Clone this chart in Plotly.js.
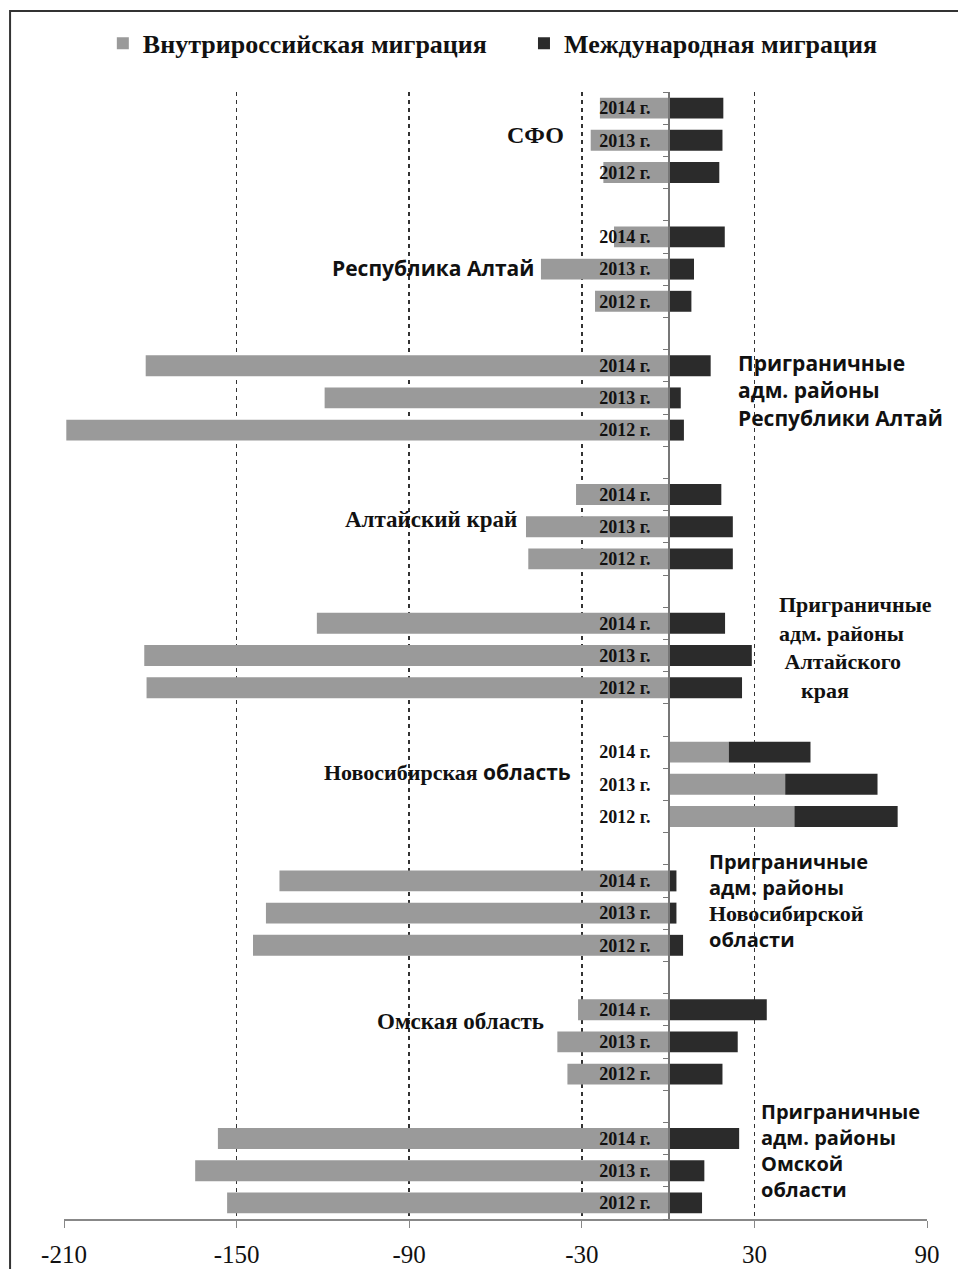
<!DOCTYPE html>
<html>
<head>
<meta charset="utf-8">
<script src="https://cdn.plot.ly/plotly-3.0.1.min.js"></script>
<style>
html,body{margin:0;padding:0;background:#fff;}
#chart{width:958px;height:1269px;}
</style>
</head>
<body>
<div id="chart"></div>
<script>
// Groups, top to bottom
const groups = [
  'СФО',
  'Республика Алтай',
  'Приграничные адм. районы Республики Алтай',
  'Алтайский край',
  'Приграничные адм. районы Алтайского края',
  'Новосибирская область',
  'Приграничные адм. районы Новосибирской области',
  'Омская область',
  'Приграничные адм. районы Омской области'
];
// Years within each group, top to bottom
const years = ['2014 г.', '2013 г.', '2012 г.'];

// Внутрироссийская миграция (per group: 2014, 2013, 2012)
const domestic = [
  -23.7, -26.9, -22.5,
  -18.8, -44.2, -25.4,
  -181.6, -119.4, -209.2,
  -32.0, -49.4, -48.6,
  -122.1, -182.1, -181.3,
  21.1, 40.7, 43.9,
  -135.1, -139.8, -144.3,
  -31.3, -38.5, -35.0,
  -156.5, -164.4, -153.3
];
// Международная миграция (per group: 2014, 2013, 2012)
const international = [
  19.2, 18.9, 17.8,
  19.7, 9.0, 8.1,
  14.8, 4.4, 5.5,
  18.5, 22.5, 22.5,
  19.8, 29.1, 25.7,
  28.4, 32.1, 35.9,
  2.9, 2.9, 5.2,
  34.3, 24.2, 18.9,
  24.7, 12.6, 11.8
];

const seriesNames = ['Внутрироссийская миграция', 'Международная миграция'];
const xTickVals = [-210, -150, -90, -30, 30, 90];
const xTickText = ['-210', '-150', '-90', '-30', '30', '90'];

const SERIF = 'Liberation Serif, Times New Roman, serif';
const SANS = 'Open Sans, Noto Sans, sans-serif';
const serifSpan = (t, s) => '<span style="font-family:Liberation Serif;font-size:' + s + 'px">' + t + '</span>';

// Labels drawn on the chart for each group
const groupLabels = [
  'СФО',
  'Республика Алтай',
  'Приграничные<br>адм. районы<br>Республики Алтай',
  'Алтайский край',
  'Приграничные<br>адм. районы<br> Алтайского<br>    края',
  serifSpan('Новосибирская', 22) + ' область',
  'Приграничные<br>адм. районы<br>' + serifSpan('Новосибирской', 22) + '<br>области',
  'Омская область',
  'Приграничные<br>адм. районы<br>Омской<br>области'
];

// build categories (with an empty slot between groups)
const cats = [], catText = [], yDom = [];
groups.forEach((g, gi) => {
  years.forEach(yr => { const id = gi + '|' + yr; cats.push(id); catText.push(yr); yDom.push(id); });
  if (gi < groups.length - 1) { cats.push(gi + '|gap'); catText.push(''); }
});

const traces = [
  { type: 'bar', orientation: 'h', name: seriesNames[0], x: domestic, y: yDom,
    marker: { color: '#9a9a9a' }, hoverinfo: 'x', legend: 'legend' },
  { type: 'bar', orientation: 'h', name: seriesNames[1], x: international, y: yDom,
    marker: { color: '#2b2b2b' }, hoverinfo: 'x', legend: 'legend2' }
];

// annotation placement (layout, in axis units)
const labelPos = [
  { x: -35.5, y: 0.84, side: 'right', font: SERIF, size: 24 },
  { x: -46, y: 4.96, side: 'right', font: SANS, size: 21 },
  { x: 23.5, y: 8.78, side: 'left', font: SANS, size: 21 },
  { x: -52, y: 12.78, side: 'right', font: SERIF, size: 23 },
  { x: 38, y: 16.75, side: 'left', font: SERIF, size: 22 },
  { x: -33, y: 20.63, side: 'right', font: SANS, size: 21 },
  { x: 13.5, y: 24.62, side: 'left', font: SANS, size: 20 },
  { x: -42.5, y: 28.36, side: 'right', font: SERIF, size: 23 },
  { x: 31.5, y: 32.36, side: 'left', font: SANS, size: 20 }
];

const annotations = groupLabels.map((t, i) => ({
  text: t, xref: 'x', yref: 'y', x: labelPos[i].x, y: labelPos[i].y,
  xanchor: labelPos[i].side === 'right' ? 'right' : 'left', yanchor: 'middle',
  align: 'left', showarrow: false,
  font: { family: labelPos[i].font, size: labelPos[i].size, color: '#111', weight: 'bold' }
}));

const legendStyle = (x) => ({
  orientation: 'h', x: x, xanchor: 'left', y: 1.064, yanchor: 'top',
  font: { family: SERIF, size: 26, color: '#111', weight: 'bold' },
  bgcolor: 'rgba(0,0,0,0)'
});

const layout = {
  width: 958, height: 1269,
  margin: { l: 64, r: 31, t: 92, b: 50 },
  paper_bgcolor: '#fff', plot_bgcolor: '#fff',
  barmode: 'relative', bargap: 0.35,
  showlegend: true,
  legend: legendStyle(0.045),
  legend2: legendStyle(0.533),
  xaxis: {
    range: [-210, 90], tickmode: 'array', tickvals: xTickVals, ticktext: xTickText,
    showgrid: true, gridcolor: '#333', griddash: '4px,4px', gridwidth: 1.5,
    zeroline: false, showline: true, linecolor: '#888', linewidth: 1.5,
    ticks: 'outside', ticklen: 7, tickcolor: '#888',
    tickfont: { family: SERIF, size: 25, color: '#111' }, ticklabelstandoff: 5
  },
  yaxis: {
    type: 'category', categoryorder: 'array', categoryarray: cats,
    tickmode: 'array', tickvals: cats, ticktext: catText,
    range: [cats.length - 0.5, -0.5],
    anchor: 'free', position: 0.7, showline: true, linecolor: '#777', linewidth: 1.5,
    ticks: 'outside', tickson: 'boundaries', ticklen: 5, tickcolor: '#777',
    showgrid: false, zeroline: false,
    tickfont: { family: SERIF, size: 18, color: '#111', weight: 'bold' }, ticklabelstandoff: 14
  },
  annotations: annotations,
  shapes: [{
    type: 'rect', xref: 'paper', yref: 'paper',
    x0: -0.0625, x1: 1.05, y0: -0.1, y1: 1.0719,
    line: { color: '#333', width: 2 }, fillcolor: 'rgba(0,0,0,0)', layer: 'above'
  }]
};

Plotly.newPlot('chart', traces, layout, { displayModeBar: false, staticPlot: true });
</script>
</body>
</html>
